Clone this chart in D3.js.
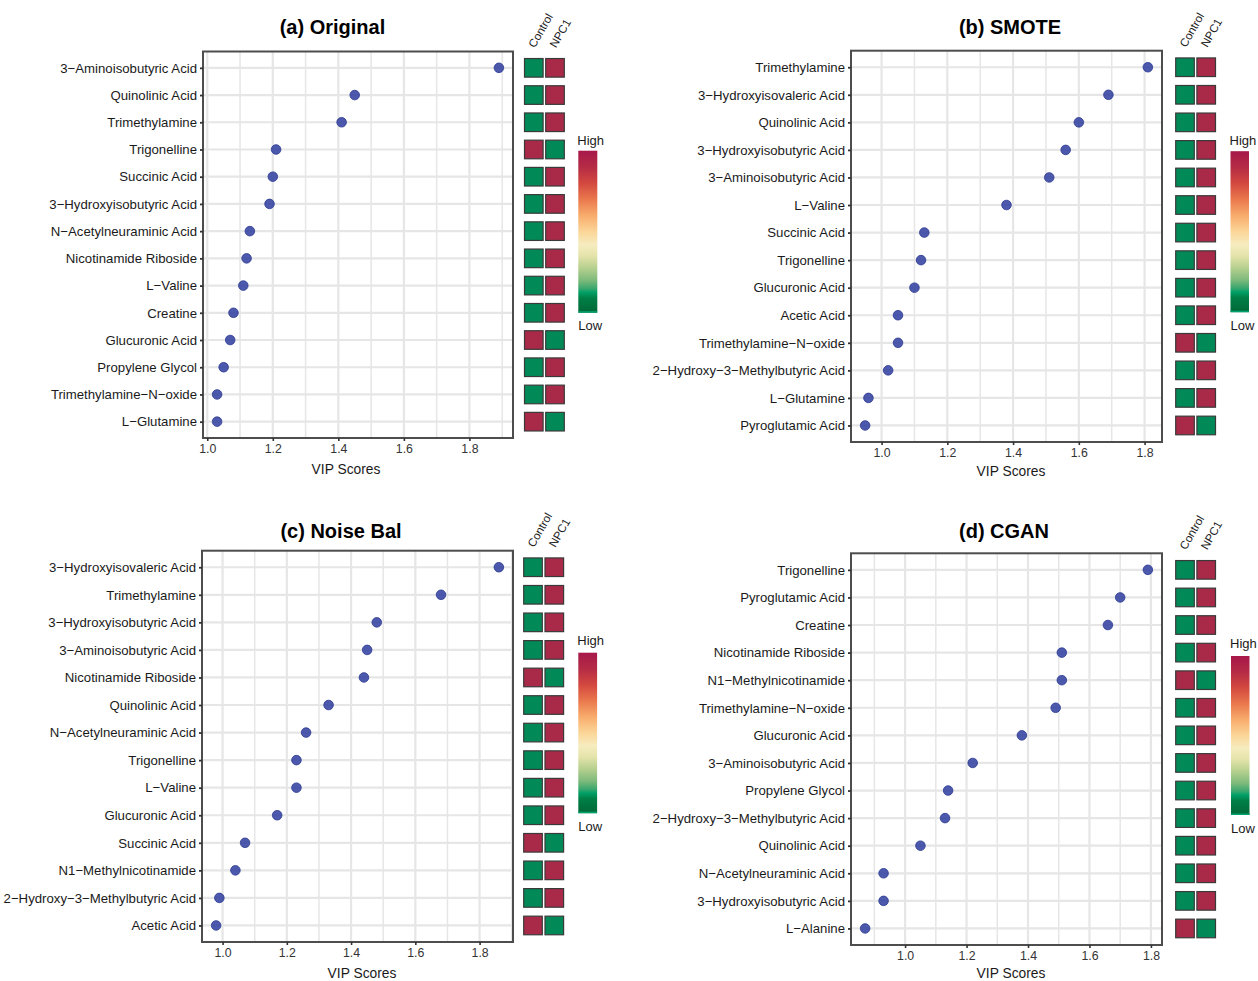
<!DOCTYPE html>
<html>
<head>
<meta charset="utf-8">
<script src="https://cdn.jsdelivr.net/npm/d3@7"></script>
<style>
  html, body { margin: 0; padding: 0; background: #fff; }
  svg { display: block; font-family: "Liberation Sans", Arial, Helvetica, sans-serif; }
</style>
</head>
<body>
<svg id="chart" width="1258" height="981"></svg>
<script>
// ---------------- DATA ----------------
const xTicks = [1.0, 1.2, 1.4, 1.6, 1.8];
const groups = ["Control", "NPC1"];
const legendLabels = ["High", "Low"];
const xTitle = "VIP Scores";

const titleA = "(a) Original";
const namesA = ["3-Aminoisobutyric Acid", "Quinolinic Acid", "Trimethylamine", "Trigonelline",
  "Succinic Acid", "3-Hydroxyisobutyric Acid", "N-Acetylneuraminic Acid", "Nicotinamide Riboside",
  "L-Valine", "Creatine", "Glucuronic Acid", "Propylene Glycol", "Trimethylamine-N-oxide", "L-Glutamine"];
const vipA = [1.89, 1.45, 1.41, 1.21, 1.20, 1.19, 1.13, 1.12, 1.11, 1.08, 1.07, 1.05, 1.03, 1.03];
const controlA = [-1, -1, -1, 1, -1, -1, -1, -1, -1, -1, 1, -1, -1, 1];
const npc1A = [1, 1, 1, -1, 1, 1, 1, 1, 1, 1, -1, 1, 1, -1];

const titleB = "(b) SMOTE";
const namesB = ["Trimethylamine", "3-Hydroxyisovaleric Acid", "Quinolinic Acid", "3-Hydroxyisobutyric Acid",
  "3-Aminoisobutyric Acid", "L-Valine", "Succinic Acid", "Trigonelline", "Glucuronic Acid", "Acetic Acid",
  "Trimethylamine-N-oxide", "2-Hydroxy-3-Methylbutyric Acid", "L-Glutamine", "Pyroglutamic Acid"];
const vipB = [1.81, 1.69, 1.60, 1.56, 1.51, 1.38, 1.13, 1.12, 1.10, 1.05, 1.05, 1.02, 0.96, 0.95];
const controlB = [-1, -1, -1, -1, -1, -1, -1, -1, -1, -1, 1, -1, -1, 1];
const npc1B = [1, 1, 1, 1, 1, 1, 1, 1, 1, 1, -1, 1, 1, -1];

const titleC = "(c) Noise Bal";
const namesC = ["3-Hydroxyisovaleric Acid", "Trimethylamine", "3-Hydroxyisobutyric Acid", "3-Aminoisobutyric Acid",
  "Nicotinamide Riboside", "Quinolinic Acid", "N-Acetylneuraminic Acid", "Trigonelline", "L-Valine",
  "Glucuronic Acid", "Succinic Acid", "N1-Methylnicotinamide", "2-Hydroxy-3-Methylbutyric Acid", "Acetic Acid"];
const vipC = [1.86, 1.68, 1.48, 1.45, 1.44, 1.33, 1.26, 1.23, 1.23, 1.17, 1.07, 1.04, 0.99, 0.98];
const controlC = [-1, -1, -1, -1, 1, -1, -1, -1, -1, -1, 1, -1, -1, 1];
const npc1C = [1, 1, 1, 1, -1, 1, 1, 1, 1, 1, -1, 1, 1, -1];

const titleD = "(d) CGAN";
const namesD = ["Trigonelline", "Pyroglutamic Acid", "Creatine", "Nicotinamide Riboside", "N1-Methylnicotinamide",
  "Trimethylamine-N-oxide", "Glucuronic Acid", "3-Aminoisobutyric Acid", "Propylene Glycol",
  "2-Hydroxy-3-Methylbutyric Acid", "Quinolinic Acid", "N-Acetylneuraminic Acid", "3-Hydroxyisobutyric Acid", "L-Alanine"];
const vipD = [1.79, 1.70, 1.66, 1.51, 1.51, 1.49, 1.38, 1.22, 1.14, 1.13, 1.05, 0.93, 0.93, 0.87];
const controlD = [-1, -1, -1, -1, 1, -1, -1, -1, -1, -1, -1, -1, -1, 1];
const npc1D = [1, 1, 1, 1, -1, 1, 1, 1, 1, 1, 1, 1, 1, -1];

// ---------------- LAYOUT ----------------
const panels = [
  { title: titleA, names: namesA, vip: vipA, ctrl: controlA, npc: npc1A,
    box: [203, 513, 51.5, 438], titleXY: [332.5, 33.5], xlabXY: [346, 473.5],
    heatX: [533.8, 555], legend: [578.3, 150.7, 19, 162], highY: 144.8, lowY: 329.8 },
  { title: titleB, names: namesB, vip: vipB, ctrl: controlB, npc: npc1B,
    box: [851, 1162, 50.7, 442], titleXY: [1010, 33.5], xlabXY: [1011, 475.5],
    heatX: [1185, 1206.2], legend: [1230.5, 151.2, 18.5, 161], highY: 144.8, lowY: 329.8 },
  { title: titleC, names: namesC, vip: vipC, ctrl: controlC, npc: npc1C,
    box: [202, 513, 550.7, 942], titleXY: [341, 537.5], xlabXY: [362, 977.5],
    heatX: [533, 554.3], legend: [578.3, 652.7, 18.8, 160.5], highY: 645, lowY: 831 },
  { title: titleD, names: namesD, vip: vipD, ctrl: controlD, npc: npc1D,
    box: [851, 1162, 553.3, 945], titleXY: [1004, 537.5], xlabXY: [1011, 977.5],
    heatX: [1185, 1206.2], legend: [1231, 656, 18.5, 159], highY: 647.5, lowY: 833 }
];

const GREEN = "#018A57", RED = "#A92A48";
const heatColor = v => v > 0 ? RED : GREEN;
const fmtName = s => s.replace(/-/g, "\u2212");

const svg = d3.select("#chart");
svg.append("rect").attr("width", 1258).attr("height", 981).attr("fill", "#fff");

// gradient for legend
const defs = svg.append("defs");
const grad = defs.append("linearGradient").attr("id", "lg").attr("x1", 0).attr("y1", 0).attr("x2", 0).attr("y2", 1);
[[0, "#A7184A"], [0.1, "#B52B45"], [0.2, "#D3483F"], [0.3, "#EA784D"], [0.4, "#F8AC6C"],
 [0.5, "#FBD698"], [0.58, "#F6ECBF"], [0.65, "#E4E3AA"], [0.72, "#B9D190"], [0.8, "#7DBA7B"],
 [0.85, "#3BA76E"], [0.875, "#00A066"], [0.91, "#007F46"], [1, "#006837"]]
  .forEach(([o, c]) => grad.append("stop").attr("offset", o).attr("stop-color", c));

panels.forEach(p => {
  const [x0, x1, y0, y1] = p.box;
  const g = svg.append("g");
  const vmin = d3.min(p.vip), vmax = d3.max(p.vip);
  const pad = (vmax - vmin) * 0.05;
  const x = d3.scaleLinear().domain([vmin - pad, vmax + pad]).range([x0, x1]);
  const y = d3.scalePoint().domain(p.names).range([y0, y1]).padding(0.6);

  g.append("rect").attr("x", x0).attr("y", y0).attr("width", x1 - x0).attr("height", y1 - y0).attr("fill", "#fff");

  // minor grid
  const [d0, d1] = x.domain();
  const minor = d3.range(Math.ceil(d0 * 10) / 10, d1, 0.1).map(v => Math.round(v * 10) / 10)
    .filter(v => !xTicks.some(t => Math.abs(t - v) < 1e-6));
  g.selectAll(".minor").data(minor).join("line")
    .attr("x1", d => x(d)).attr("x2", d => x(d)).attr("y1", y0).attr("y2", y1)
    .attr("stroke", "#E6E6E6").attr("stroke-width", 1.5);
  // major grid
  g.selectAll(".majx").data(xTicks).join("line")
    .attr("x1", d => x(d)).attr("x2", d => x(d)).attr("y1", y0).attr("y2", y1)
    .attr("stroke", "#E6E6E6").attr("stroke-width", 2.2);
  g.selectAll(".majy").data(p.names).join("line")
    .attr("x1", x0).attr("x2", x1).attr("y1", d => y(d)).attr("y2", d => y(d))
    .attr("stroke", "#E6E6E6").attr("stroke-width", 2.2);

  // points
  g.selectAll(".pt").data(p.names).join("circle")
    .attr("cx", (d, i) => x(p.vip[i])).attr("cy", d => y(d)).attr("r", 4.8)
    .attr("fill", "#2E3C9D").attr("fill-opacity", 0.85)
    .attr("stroke", "#2A3890").attr("stroke-width", 0.8);

  // border
  g.append("rect").attr("x", x0).attr("y", y0).attr("width", x1 - x0).attr("height", y1 - y0)
    .attr("fill", "none").attr("stroke", "#4D4D4D").attr("stroke-width", 2);

  // axes
  const ax = g.append("g").attr("transform", `translate(0,${y1})`)
    .call(d3.axisBottom(x).tickValues(xTicks).tickFormat(d3.format(".1f")).tickSize(3).tickPadding(3));
  ax.select(".domain").remove();
  ax.selectAll("line").attr("stroke", "#333").attr("stroke-width", 1.6);
  ax.selectAll("text").attr("font-size", 12.3).attr("fill", "#333").attr("font-family", "Liberation Sans, Arial, sans-serif");

  const ay = g.append("g").attr("transform", `translate(${x0},0)`)
    .call(d3.axisLeft(y).tickSize(3).tickPadding(3).tickFormat(fmtName));
  ay.select(".domain").remove();
  ay.selectAll("line").attr("stroke", "#333").attr("stroke-width", 1.8);
  ay.selectAll("text").attr("font-size", 13.2).attr("fill", "#1a1a1a").attr("font-family", "Liberation Sans, Arial, sans-serif");

  // titles
  g.append("text").attr("x", p.titleXY[0]).attr("y", p.titleXY[1]).attr("text-anchor", "middle")
    .attr("font-size", 20).attr("font-weight", "bold").attr("fill", "#000").text(p.title);
  g.append("text").attr("x", p.xlabXY[0]).attr("y", p.xlabXY[1]).attr("text-anchor", "middle")
    .attr("font-size", 13.8).attr("fill", "#1a1a1a").text(xTitle);

  // heatmap
  const cs = 18.6;
  const cols = [p.ctrl, p.npc];
  cols.forEach((vals, ci) => {
    g.selectAll(".hc" + ci).data(p.names).join("rect")
      .attr("x", p.heatX[ci] - cs / 2).attr("y", d => y(d) - cs / 2)
      .attr("width", cs).attr("height", cs)
      .attr("fill", (d, i) => heatColor(vals[i]))
      .attr("stroke", "#3a3a3a").attr("stroke-width", 1.2);
    const topCell = y(p.names[0]) - cs / 2;
    g.append("text")
      .attr("transform", `translate(${p.heatX[ci] + 1},${topCell - 10}) rotate(-60)`)
      .attr("font-size", 11.5).attr("fill", "#1a1a1a").text(groups[ci]);
  });

  // legend
  const [lx, ly, lw, lh] = p.legend;
  g.append("rect").attr("x", lx).attr("y", ly).attr("width", lw).attr("height", lh).attr("fill", "url(#lg)");
  g.append("rect").attr("x", lx).attr("y", ly + lh - 1.5).attr("width", lw).attr("height", 1.5).attr("fill", "#00A36E");
  g.append("text").attr("x", lx - 1).attr("y", p.highY).attr("font-size", 13).attr("fill", "#1a1a1a").text(legendLabels[0]);
  g.append("text").attr("x", lx).attr("y", p.lowY).attr("font-size", 13).attr("fill", "#1a1a1a").text(legendLabels[1]);
});
</script>
</body>
</html>
